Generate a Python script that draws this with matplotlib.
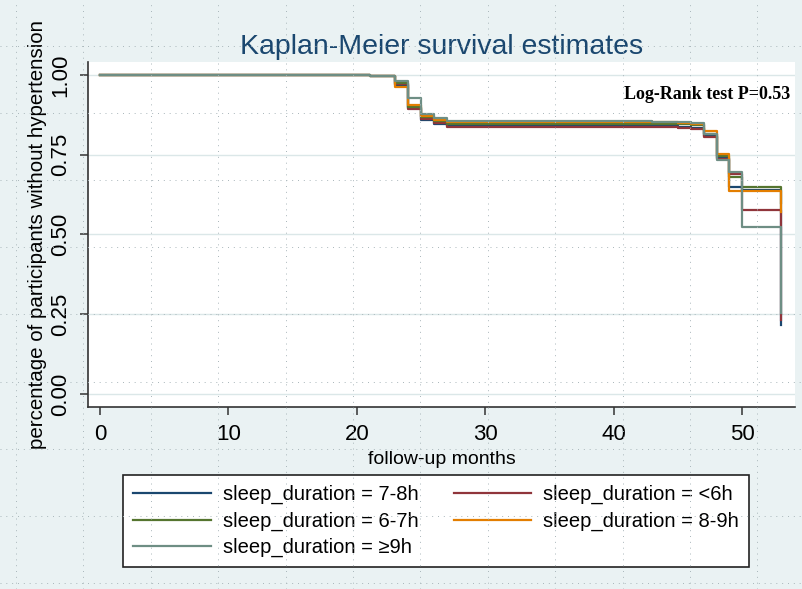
import matplotlib
matplotlib.use("Agg")
import matplotlib.pyplot as plt
from matplotlib.lines import Line2D
import numpy as np

# step points (months, survival)
months = [0, 18, 21, 23, 24, 25, 26, 27, 43, 45, 46, 47, 48, 49, 50, 53]
surv_78 = [1.0, 0.999, 0.997, 0.970, 0.898, 0.858, 0.848, 0.840, 0.839, 0.837, 0.835, 0.810, 0.740, 0.648, 0.640, 0.217]
surv_lt6 = [1.0, 0.999, 0.997, 0.972, 0.895, 0.862, 0.850, 0.838, 0.836, 0.833, 0.830, 0.805, 0.738, 0.690, 0.576, 0.233]
surv_67 = [1.0, 0.999, 0.997, 0.975, 0.900, 0.868, 0.856, 0.848, 0.847, 0.845, 0.842, 0.815, 0.745, 0.680, 0.648, 0.600]
surv_89 = [1.0, 0.999, 0.996, 0.963, 0.905, 0.872, 0.860, 0.853, 0.852, 0.850, 0.848, 0.824, 0.752, 0.635, 0.635, 0.570]
surv_ge9 = [1.0, 0.999, 0.998, 0.982, 0.928, 0.877, 0.866, 0.855, 0.854, 0.852, 0.850, 0.815, 0.733, 0.695, 0.522, 0.255]

groups = ["7-8h", "<6h", "6-7h", "8-9h", "≥9h"]
curves = [surv_78, surv_lt6, surv_67, surv_89, surv_ge9]
colors = ["#1a476f", "#90353b", "#55752f", "#e37e00", "#6e8e84"]

xticks = [0, 10, 20, 30, 40, 50]
yticks = [0.0, 0.25, 0.5, 0.75, 1.0]

BG = "#eaf2f3"
W, H = 802, 589

fig = plt.figure(figsize=(W / 100, H / 100), dpi=100, facecolor=BG)
ax = fig.add_axes([88 / W, 1 - 407 / H, 707 / W, 345 / H])
ax.set_facecolor("white")

for y in yticks:
    ax.axhline(y, color="#dbe7e8", lw=1.0, zorder=0)

handles = []
for g, s, c in zip(groups, curves, colors):
    (ln,) = ax.step(months, s, where="post", color=c, lw=1.6, label=f"sleep_duration = {g}")
    handles.append(ln)

ax.set_xlim(-0.93, 54.1)
ax.set_ylim(-0.041, 1.041)
ax.set_xticks(xticks)
ax.set_yticks(yticks)
ax.set_yticklabels([f"{v:.2f}" for v in yticks], rotation=90, va="center")

for lab in ax.get_xticklabels() + ax.get_yticklabels():
    lab.set_fontfamily("Liberation Sans")
    lab.set_fontsize(16)
ax.tick_params(axis="both", direction="out", length=6, width=1.1, color="#333333", pad=6)

for side in ["top", "right"]:
    ax.spines[side].set_visible(False)
for side in ["left", "bottom"]:
    ax.spines[side].set_color("#333333")
    ax.spines[side].set_linewidth(1.2)

ax.set_title("Kaplan-Meier survival estimates", fontsize=20.5, color="#1a476f",
             family="Liberation Sans", pad=6)
ax.set_ylabel("percentage of participants without hypertension", fontsize=14.8,
              family="Liberation Sans")
ax.yaxis.set_label_coords(-0.058, 0.50)
ax.set_xlabel("follow-up months", fontsize=14, family="Liberation Sans")
ax.xaxis.set_label_coords(0.5, -0.128)

ax.text(0.993, 0.905, "Log-Rank test P=0.53", transform=ax.transAxes, ha="right", va="center",
        fontsize=13, fontweight="bold", family="Liberation Serif")

# legend: Stata fills row-wise, matplotlib column-wise
order = [0, 2, 4, 1, 3]
leg = fig.legend([handles[i] for i in order], [handles[i].get_label() for i in order],
                 ncol=2, loc="upper left", bbox_to_anchor=(123 / W, 1 - 475 / H),
                 prop=dict(family="Liberation Sans", size=14.5),
                 frameon=True, fancybox=False, edgecolor="#222222", facecolor="white",
                 framealpha=1, handlelength=3.85, handletextpad=0.6, columnspacing=1.75,
                 labelspacing=0.36, borderpad=0.5, borderaxespad=0)
leg.get_frame().set_linewidth(1.2)

# faint dotted overlay grid visible across the whole reference image
dot = dict(color="#a9b6ba", lw=0.7, linestyle=(0, (1, 5)), transform=fig.transFigure, zorder=10)
for px in np.arange(16, W, 67.4):
    fig.add_artist(Line2D([px / W, px / W], [0, 1], **dot))
for py in np.arange(46, H, 67.1):
    fig.add_artist(Line2D([0, 1], [1 - py / H, 1 - py / H], **dot))

fig.savefig("out.png", dpi=100, facecolor=BG)
